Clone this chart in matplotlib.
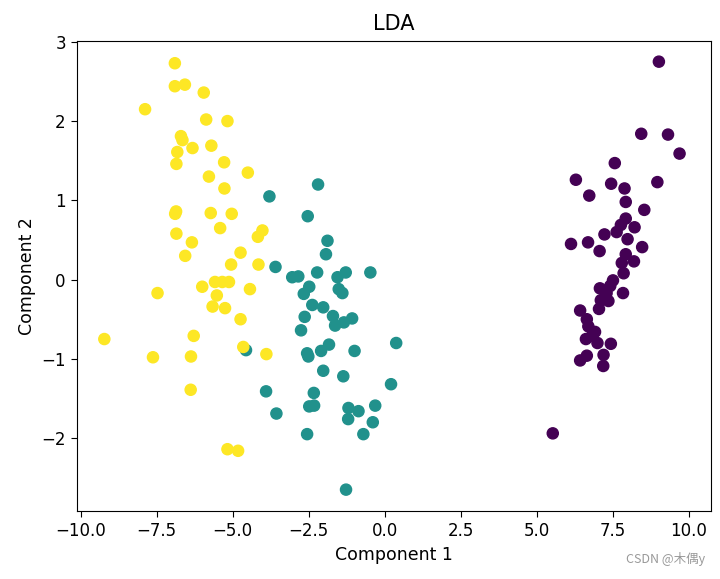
import numpy as np
from matplotlib import pyplot as plt

# LDA projection of the three classes
x0 = [9.02, 8.44, 9.32, 9.70, 7.57, 6.29, 7.45, 7.89, 8.97, 6.73, 7.93, 8.54, 7.93, 7.77, 8.22, 7.23,
      7.63, 7.99, 6.13, 6.69, 7.07, 8.47, 7.93, 8.20, 7.80, 7.86, 7.51, 7.42, 7.08, 7.84, 7.30, 7.11,
      7.36, 7.05, 6.43, 6.65, 6.70, 6.92, 6.62, 6.82, 7.00, 7.44, 6.65, 6.43, 7.20, 7.19, 5.53]
y0 = [2.75, 1.84, 1.83, 1.59, 1.47, 1.26, 1.21, 1.15, 1.23, 1.06, 0.98, 0.88, 0.77, 0.69, 0.66, 0.57,
      0.60, 0.51, 0.45, 0.47, 0.36, 0.41, 0.32, 0.23, 0.21, 0.08, -0.01, -0.08, -0.11, -0.17, -0.17, -0.26,
      -0.27, -0.37, -0.39, -0.50, -0.59, -0.66, -0.75, -0.71, -0.80, -0.81, -0.96, -1.02, -0.95, -1.09, -1.94]

x1 = [-2.19, -3.79, -2.53, -1.88, -1.93, -3.59, -3.04, -2.84, -2.22, -1.55, -1.28, -0.47, -2.48, -2.66,
      -1.51, -1.39, -2.38, -2.02, -2.63, -1.70, -1.63, -1.34, -1.07, -2.75, -1.83, -2.09, -2.55, -2.51,
      -0.99, 0.38, -4.56, -2.02, -1.36, 0.21, -3.90, -2.33, -2.48, -2.32, -3.56, -1.19, -0.86, -0.31,
      -1.20, -0.39, -2.55, -0.70, -1.27]
y1 = [1.20, 1.05, 0.80, 0.49, 0.32, 0.16, 0.03, 0.04, 0.09, 0.03, 0.09, 0.09, -0.09, -0.18,
      -0.12, -0.17, -0.32, -0.35, -0.47, -0.46, -0.58, -0.54, -0.49, -0.64, -0.82, -0.90, -0.93, -0.97,
      -0.90, -0.80, -0.89, -1.15, -1.22, -1.32, -1.41, -1.43, -1.60, -1.59, -1.69, -1.62, -1.66, -1.59,
      -1.76, -1.80, -1.95, -1.95, -2.65]

x2 = [-6.90, -6.90, -6.57, -5.95, -7.88, -5.87, -5.17, -6.70, -6.65, -6.32, -5.70, -6.82, -6.85, -5.28,
      -5.78, -4.50, -5.27, -6.86, -6.89, -5.72, -5.03, -5.41, -4.02, -4.17, -6.85, -6.34, -6.56, -4.74,
      -5.05, -4.15, -7.47, -6.00, -5.58, -5.34, -5.12, -5.52, -4.43, -5.66, -5.25, -4.74, -9.22, -6.28,
      -4.65, -7.62, -6.37, -3.89, -6.38, -5.17, -4.82]
y2 = [2.73, 2.44, 2.46, 2.36, 2.15, 2.02, 2.00, 1.81, 1.76, 1.66, 1.69, 1.61, 1.46, 1.48,
      1.30, 1.35, 1.15, 0.86, 0.83, 0.84, 0.83, 0.65, 0.62, 0.54, 0.58, 0.47, 0.30, 0.34,
      0.19, 0.19, -0.17, -0.09, -0.03, -0.03, -0.03, -0.20, -0.12, -0.34, -0.36, -0.50, -0.75, -0.71,
      -0.85, -0.98, -0.97, -0.94, -1.39, -2.14, -2.16]

X = np.array(x0 + x1 + x2)
Y = np.array(y0 + y1 + y2)
labels = np.array([0]*len(x0) + [1]*len(x1) + [2]*len(x2))

plt.rcParams['font.size'] = 12
fig = plt.figure(figsize=(7.2, 5.79), dpi=100)
ax = fig.add_axes([0.1069, 0.1174, 0.880, 0.8117])
ax.scatter(X, Y, c=labels, cmap='viridis', s=64)
ax.set_xlim(-10.12, 10.72)
ax.set_ylim(-2.92, 3.01)
ax.set_xticks([-10, -7.5, -5, -2.5, 0, 2.5, 5, 7.5, 10])
ax.tick_params(labelsize=12, length=4.5)
ax.set_title("LDA", fontsize=15, pad=8)
ax.set_xlabel("Component 1", fontsize=12.5)
ax.set_ylabel("Component 2", fontsize=12.5)

fig.text(0.98, 0.022, "CSDN @木偶y", ha='right', va='bottom', fontsize=9, color='#999999',
         family=['Noto Sans CJK SC', 'DejaVu Sans'])

plt.savefig("out.png", dpi=100)
